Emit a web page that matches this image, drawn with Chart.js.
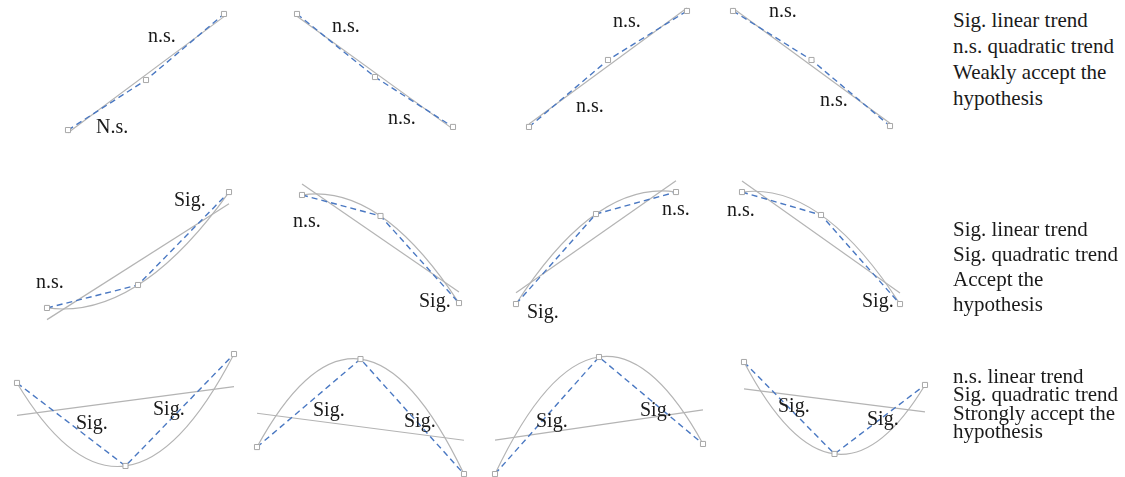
<!DOCTYPE html>
<html>
<head>
<meta charset="utf-8">
<script src="https://cdn.jsdelivr.net/npm/chart.js@4.4.0/dist/chart.umd.min.js"></script>
<style>
  html, body { margin: 0; padding: 0; background: #fff; }
  body { width: 1125px; height: 477px; position: relative; overflow: hidden; font-family: "Liberation Serif", "DejaVu Serif", serif; color: #1a1a1a; }
  canvas { position: absolute; }
  .lbl { position: absolute; font-size: 20px; line-height: 20px; white-space: nowrap; }
  .note { position: absolute; left: 953px; font-size: 21px; white-space: nowrap; }
</style>
</head>
<body>
<script>
// x = condition (1..3), y = mean response on a 0-100 scale
var conditions = [1, 2, 3];

// row 1: linear only
var rowLinear = [
  [3.8, 42.3, 93.1],
  [93.1, 44.6, 6.2],
  [6.2, 57.7, 95.4],
  [95.4, 57.7, 6.9]
];
// row 2: linear + quadratic
var rowBoth = [
  [8.6, 25.0, 91.4],
  [89.3, 74.3, 12.1],
  [11.4, 75.7, 91.4],
  [91.4, 75.0, 11.4]
];
// row 3: quadratic only
var rowQuad = [
  [71.9, 10.4, 93.3],
  [24.4, 89.6, 4.4],
  [4.4, 91.1, 26.7],
  [87.4, 19.3, 70.4]
];

// significance of each segment (1->2, 2->3)
var segLinear = [["N.s.", "n.s."], ["n.s.", "n.s."], ["n.s.", "n.s."], ["n.s.", "n.s."]];
var segBoth = [["n.s.", "Sig."], ["n.s.", "Sig."], ["Sig.", "n.s."], ["n.s.", "Sig."]];
var segQuad = [["Sig.", "Sig."], ["Sig.", "Sig."], ["Sig.", "Sig."], ["Sig.", "Sig."]];

var notes = [
  ["Sig. linear trend", "n.s. quadratic trend", "Weakly accept the", "hypothesis"],
  ["Sig. linear trend", "Sig. quadratic trend", "Accept the", "hypothesis"],
  ["n.s. linear trend", "Sig. quadratic trend", "Strongly accept the", "hypothesis"]
];

// ---- layout (pixels) ----
var PAD = 6;
var rows = [
  { data: rowLinear, seg: segLinear, quad: false, top: 5, h: 130,
    xs: [[68, 224], [297, 453], [529, 687], [733, 890]],
    lbl: [[[96, 133], [148, 42]], [[332, 32], [388, 124]], [[576, 112], [613, 27]], [[769, 17], [820, 106]]] },
  { data: rowBoth, seg: segBoth, quad: true, top: 180, h: 140,
    xs: [[47, 229], [302, 459], [516, 676], [742, 900]],
    lbl: [[[36, 288], [174, 206]], [[293, 227], [419, 307]], [[527, 318], [662, 215]], [[727, 216], [862, 307]]] },
  { data: rowQuad, seg: segQuad, quad: true, top: 345, h: 135,
    xs: [[17, 234], [257, 464], [495, 703], [744, 925]],
    lbl: [[[76, 429], [153, 415]], [[313, 416], [404, 427]], [[536, 427], [640, 416]], [[778, 412], [867, 425]]] }
];
var noteTop = [7, 217, 367];
var noteLine = [26, 25, 18.3];

// quadratic through the 3 means, drawn as an exact bezier on the chart's scales
var quadPlugin = {
  id: "quad",
  beforeDatasetsDraw: function (chart) {
    if (!chart.options.plugins.quad.show) return;
    var ys = chart.options.plugins.quad.values;
    var sx = chart.scales.x, sy = chart.scales.y;
    var p0 = [sx.getPixelForValue(conditions[0]), sy.getPixelForValue(ys[0])];
    var p1 = [sx.getPixelForValue(conditions[1]), sy.getPixelForValue(ys[1])];
    var p2 = [sx.getPixelForValue(conditions[2]), sy.getPixelForValue(ys[2])];
    var cx = 2 * p1[0] - (p0[0] + p2[0]) / 2;
    var cy = 2 * p1[1] - (p0[1] + p2[1]) / 2;
    var ctx = chart.ctx;
    ctx.save();
    ctx.strokeStyle = "#b4b4b4";
    ctx.lineWidth = 1.2;
    ctx.beginPath();
    ctx.moveTo(p0[0], p0[1]);
    ctx.quadraticCurveTo(cx, cy, p2[0], p2[1]);
    ctx.stroke();
    ctx.restore();
  }
};

function linearFit(ys) {
  var mean = (ys[0] + ys[1] + ys[2]) / 3;
  var slope = (ys[2] - ys[0]) / 2;
  return [{ x: conditions[0], y: mean - slope }, { x: conditions[2], y: mean + slope }];
}

function addLabel(text, left, baseline) {
  var d = document.createElement("div");
  d.className = "lbl";
  d.textContent = text;
  d.style.left = left + "px";
  d.style.top = (baseline - 16.75) + "px";
  document.body.appendChild(d);
}

rows.forEach(function (row, r) {
  row.data.forEach(function (ys, i) {
    var x1 = row.xs[i][0], x3 = row.xs[i][1];
    var cv = document.createElement("canvas");
    cv.width = x3 - x1 + 2 * PAD;
    cv.height = row.h + 2 * PAD;
    cv.style.left = (x1 - PAD) + "px";
    cv.style.top = (row.top - PAD) + "px";
    document.body.appendChild(cv);

    var means = conditions.map(function (c, k) { return { x: c, y: ys[k] }; });
    var datasets = [{
      data: means,
      borderColor: "#4a78c2",
      borderWidth: 1.4,
      borderDash: [6, 4],
      pointStyle: "rect",
      pointRadius: 3.6,
      pointBackgroundColor: "#ffffff",
      pointBorderColor: "#a8a8a8",
      pointBorderWidth: 1,
      clip: false
    }];
    // linear trend drawn for rows 1-3 (always shown in reference)
    datasets.push({
      data: linearFit(ys),
      borderColor: "#b4b4b4",
      borderWidth: 1.2,
      pointRadius: 0,
      clip: false
    });

    new Chart(cv, {
      type: "line",
      data: { datasets: datasets },
      options: {
        responsive: false,
        animation: false,
        events: [],
        layout: { padding: PAD },
        plugins: {
          legend: { display: false },
          tooltip: { enabled: false },
          quad: { show: row.quad, values: ys }
        },
        scales: {
          x: { type: "linear", min: 1, max: 3, display: false },
          y: { min: 0, max: 100, display: false }
        }
      },
      plugins: [quadPlugin]
    });

    addLabel(row.seg[i][0], row.lbl[i][0][0], row.lbl[i][0][1]);
    addLabel(row.seg[i][1], row.lbl[i][1][0], row.lbl[i][1][1]);
  });

  var n = document.createElement("div");
  n.className = "note";
  n.style.top = noteTop[r] + "px";
  n.style.lineHeight = noteLine[r] + "px";
  n.innerHTML = notes[r].join("<br>");
  document.body.appendChild(n);
});
</script>
</body>
</html>
